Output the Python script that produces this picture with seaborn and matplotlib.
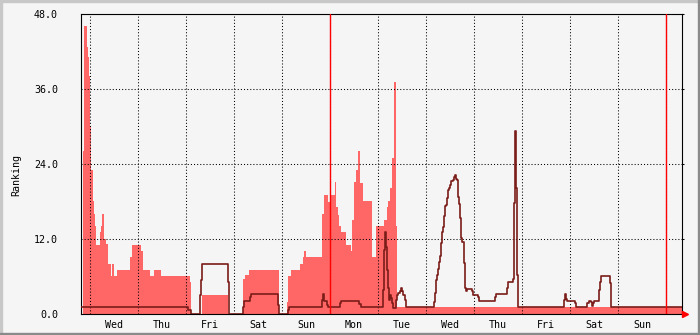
import matplotlib
matplotlib.use("Agg")
import matplotlib.pyplot as plt
import seaborn as sns
import pandas as pd
from matplotlib.patches import Rectangle
from matplotlib.ticker import FixedLocator

# time axis: hours since the first Wednesday 00:00
area_hours = [-4.5, -3.6, -3, -1.5, -1, -0.5, 0, 0.5, 1.5, 2, 2.5, 3, 5, 5.5, 6, 7, 8, 9,
              10.5, 11, 12, 13.5, 20, 21, 25.5, 26.5, 30, 32, 35.5, 50, 50.5, 55.75, 69,
              76.5, 77.5, 79.5, 94.5, 98.5, 99, 100.5, 105, 106.5, 107, 108, 116, 117, 119,
              120, 122.5, 123, 124, 124.5, 125.5, 128, 130.5, 131, 132, 133, 134, 135,
              136.5, 141, 143, 147, 148.5, 149, 150, 151, 152, 153, 153.5, 296]
area_values = [0, 26.2, 46.1, 42.7, 41.1, 38.2, 30.0, 23.1, 18.2, 16.0, 14.2, 11.1, 13.1,
               14.2, 16.0, 12.0, 11.2, 8.0, 6.2, 8.0, 6.2, 7.1, 9.1, 11.1, 10.1, 7.1, 6.2,
               7.1, 6.2, 5.2, 0, 3.1, 0, 5.6, 6.3, 7.1, 0, 2.0, 6.2, 7.1, 8.0, 9.2, 10.1,
               9.2, 16.0, 19.1, 18.0, 19.1, 21.1, 17.2, 15.9, 14.1, 13.2, 11.1, 10.1, 15.1,
               21.1, 23.1, 26.1, 21.0, 18.2, 9.2, 14.2, 15.1, 17.2, 18.1, 20.2, 25.0, 37.2,
               14.2, 1.2, 1.2]

line_hours = [-4.5, 49, 50.5, 55, 55.5, 56, 69, 69.5, 76.5, 77, 80, 80.5, 94, 94.5, 99,
              99.5, 116, 116.5, 117, 118.5, 119, 125, 125.5, 134.5, 135.5, 146.5, 147,
              147.5, 148, 148.5, 149, 149.5, 150, 150.5, 151, 151.5, 153, 153.5, 154, 155,
              155.5, 156, 156.5, 157.5, 158, 172, 172.5, 173, 173.5, 174, 174.5, 175,
              175.5, 176, 176.5, 177, 177.5, 178, 178.5, 179, 179.5, 180, 180.5, 181.5,
              182, 182.5, 183, 183.5, 184, 184.5, 185, 185.5, 186, 187, 187.5, 188, 188.5,
              191, 191.5, 194, 194.5, 202.5, 203, 208.5, 209, 211.5, 212, 212.5, 213,
              213.5, 214, 237, 237.5, 238, 238.5, 242.5, 243, 248.5, 249.5, 250.5, 251,
              251.5, 252, 254.5, 255, 255.5, 260, 260.5, 296]
line_values = [1.2, 0.7, 0, 3.1, 5.5, 8.1, 5.1, 0, 1.2, 2.2, 2.8, 3.2, 1.5, 0, 0.7, 1.2,
               2.3, 3.2, 2.2, 1.5, 1.2, 1.8, 2.2, 1.7, 1.2, 3.9, 10.3, 13.2, 10.8, 7.1,
               4.2, 2.3, 3.1, 2.6, 1.8, 1.0, 2.3, 3.1, 3.4, 3.7, 4.2, 3.7, 3.1, 2.3, 1.2,
               2.0, 3.4, 5.5, 6.3, 7.2, 8.4, 9.3, 11.4, 13.2, 14.0, 15.7, 17.3, 17.5, 18.6,
               19.9, 20.2, 20.7, 21.3, 21.5, 21.9, 22.3, 21.7, 21.5, 18.8, 17.7, 15.4,
               12.2, 11.6, 8.2, 4.2, 3.8, 4.1, 3.8, 3.1, 2.8, 2.2, 2.7, 3.2, 4.2, 5.2, 5.7,
               17.8, 29.3, 20.2, 6.3, 1.2, 2.3, 3.2, 2.5, 2.2, 1.8, 1.2, 1.8, 2.2, 1.9, 1.4,
               1.8, 2.2, 3.9, 5.2, 6.2, 5.0, 1.2, 1.2]

day_labels = ["Wed", "Thu", "Fri", "Sat", "Sun", "Mon", "Tue", "Wed", "Thu", "Fri", "Sat", "Sun"]
y_ticks = [0, 12, 24, 36, 48]
y_tick_labels = ["0.0", "12.0", "24.0", "36.0", "48.0"]
week_marks = [120, 288]
y_label = "Ranking"

sns.set_style("white")
plt.rcParams["font.family"] = ["DejaVu Sans Mono", "DejaVu Sans"]

W, H = 700, 335
bg = "#f5f5f5"
fig = plt.figure(figsize=(W / 100, H / 100), dpi=100, facecolor=bg)
ax = fig.add_axes([81 / W, (H - 314.3) / H, 601 / W, 300 / H])
ax.set_facecolor(bg)

area_df = pd.DataFrame({"hour": area_hours, "value": area_values})
line_df = pd.DataFrame({"hour": line_hours, "value": line_values})

ax.fill_between(area_df["hour"], area_df["value"], step="post", color="#ff6666",
                lw=0, zorder=1)
sns.lineplot(data=line_df, x="hour", y="value", drawstyle="steps-post", estimator=None,
             sort=False, color="#7a1c18", lw=1.2, ax=ax, zorder=3)

for wm in week_marks:
    ax.axvline(wm, color="#ff0000", lw=1.0, zorder=4)

ax.set_xlim(-4.5, 296)
ax.set_ylim(0, 48)

ax.xaxis.set_major_locator(FixedLocator(list(range(0, 289, 24))))
ax.xaxis.set_minor_locator(FixedLocator([12 + 24 * i for i in range(len(day_labels))]))
ax.set_xticklabels([], minor=False)
ax.set_xticklabels(day_labels, minor=True)
ax.set_yticks(y_ticks)
ax.set_yticklabels(y_tick_labels)

ax.set_axisbelow(False)
ax.grid(True, which="major", color="black", linestyle=(0, (1, 2)), lw=0.75)
ax.set_xlabel("")
ax.set_ylabel("")

ax.tick_params(axis="x", which="major", length=1.6, width=0.75, direction="out",
               color="black", labelbottom=False)
ax.tick_params(axis="x", which="minor", length=0, pad=4, labelsize=7.2, labelcolor="black")
ax.tick_params(axis="y", which="major", length=1.6, width=0.75, direction="out",
               right=True, color="black", pad=15, labelsize=7.2, labelcolor="black")
for s in ax.spines.values():
    s.set_color("black")
    s.set_linewidth(0.8)
    s.set_visible(True)

# arrow at end of time axis
ax.plot([297.3], [0], marker=">", color="#ff0000", markersize=4.5, clip_on=False, zorder=5)

fig.text(16 / W, 1 - 175 / H, y_label, rotation=90, ha="center", va="center",
         fontsize=7.2, color="black")

# rrdtool-like bevelled border
fig.patches.append(Rectangle((0, 0), 2 / W, 1, transform=fig.transFigure, color="#c8c8c8", zorder=10))
fig.patches.append(Rectangle((0, 1 - 2 / H), 1, 2 / H, transform=fig.transFigure, color="#c8c8c8", zorder=10))
fig.patches.append(Rectangle((1 - 2 / W, 0), 2 / W, 1, transform=fig.transFigure, color="#8a8a8a", zorder=10))
fig.patches.append(Rectangle((0, 0), 1, 2 / H, transform=fig.transFigure, color="#8a8a8a", zorder=10))

fig.savefig("out.png", dpi=100, facecolor=bg)
